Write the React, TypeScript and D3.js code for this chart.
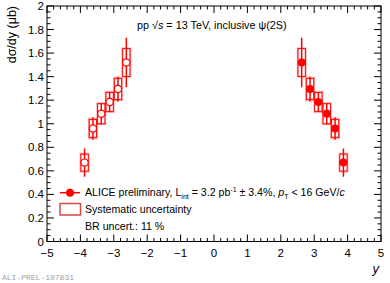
import React from "react";
import * as d3 from "d3";

// bin centres in rapidity (negative side = reflected, open markers)
const rapidity = [-3.875, -3.625, -3.375, -3.125, -2.875, -2.625, 2.625, 2.875, 3.125, 3.375, 3.625, 3.875];
const xsec = [0.67, 0.96, 1.085, 1.185, 1.295, 1.52, 1.52, 1.295, 1.185, 1.085, 0.96, 0.67];
const statErr = [0.12, 0.095, 0.09, 0.085, 0.105, 0.21, 0.21, 0.105, 0.085, 0.09, 0.095, 0.12];
const sysUncorr = [0.072, 0.075, 0.085, 0.08, 0.088, 0.118, 0.118, 0.088, 0.08, 0.085, 0.075, 0.072];
const sysTotal = [0.078, 0.085, 0.09, 0.088, 0.098, 0.122, 0.122, 0.098, 0.088, 0.09, 0.085, 0.078];
const xTickValues = [-5, -4, -3, -2, -1, 0, 1, 2, 3, 4, 5];
const yTickValues = [0, 0.2, 0.4, 0.6, 0.8, 1, 1.2, 1.4, 1.6, 1.8, 2];

const W = 390;
const H = 283;
const margin = { top: 6, right: 9, bottom: 41.5, left: 47 };
const FONT = "'Liberation Sans', Arial, Helvetica, sans-serif";
const RED = "#ff0000";

const App = () => {
  const x = d3.scaleLinear().domain([-5, 5]).range([margin.left, W - margin.right]);
  const y = d3.scaleLinear().domain([0, 2]).range([H - margin.bottom, margin.top]);
  const [x0, x1] = x.range();
  const [y0, y1] = y.range();

  const xMinor = x.ticks(50);
  const yMinor = y.ticks(50);
  const binW = 0.25;
  const boxW = 0.22;

  return (
    <svg width={W} height={H} style={{ position: "absolute", left: 0, top: 0 }} fontFamily={FONT}>
      <rect width={W} height={H} fill="#fff" />

      {/* frame */}
      <rect x={x0} y={y1} width={x1 - x0} height={y0 - y1} fill="none" stroke="#000" strokeWidth={1} />

      {/* x ticks, bottom and top */}
      {xMinor.map((t, i) => {
        const major = xTickValues.includes(Math.round(t * 10) / 10);
        const len = major ? 7 : 3.5;
        return (
          <g key={"xt" + i} stroke="#000" strokeWidth={1}>
            <line x1={x(t)} x2={x(t)} y1={y0} y2={y0 - len} />
            <line x1={x(t)} x2={x(t)} y1={y1} y2={y1 + len} />
          </g>
        );
      })}
      {/* y ticks, left and right */}
      {yMinor.map((t, i) => {
        const major = Math.abs(t * 5 - Math.round(t * 5)) < 1e-6;
        const len = major ? 7 : 3.5;
        return (
          <g key={"yt" + i} stroke="#000" strokeWidth={1}>
            <line x1={x0} x2={x0 + len} y1={y(t)} y2={y(t)} />
            <line x1={x1} x2={x1 - len} y1={y(t)} y2={y(t)} />
          </g>
        );
      })}

      {xTickValues.map((t) => (
        <text key={"xl" + t} x={x(t)} y={y0 + 15} fontSize={11.5} textAnchor="middle">
          {t < 0 ? "\u2212" + Math.abs(t) : String(t)}
        </text>
      ))}
      {yTickValues.map((t) => (
        <text key={"yl" + t} x={x0 - 3} y={y(t) + 4} fontSize={11.5} textAnchor="end">
          {String(+t.toFixed(1))}
        </text>
      ))}

      {/* axis titles */}
      <text transform={`translate(16,${y1}) rotate(-90)`} fontSize={12.5} textAnchor="end">
        d&#963;/dy (&#956;b)
      </text>
      <text x={x1 - 2} y={273} fontSize={13} fontStyle="italic" textAnchor="end">y</text>

      {/* systematic boxes */}
      {rapidity.map((r, i) => (
        <rect
          key={"st" + i}
          x={x(r - binW / 2)}
          y={y(xsec[i] + sysTotal[i])}
          width={x(r + binW / 2) - x(r - binW / 2)}
          height={y(xsec[i] - sysTotal[i]) - y(xsec[i] + sysTotal[i])}
          fill="none"
          stroke="rgba(255,0,0,0.35)"
          strokeWidth={1.5}
        />
      ))}
      {rapidity.map((r, i) => (
        <rect
          key={"su" + i}
          x={x(r - boxW / 2)}
          y={y(xsec[i] + sysUncorr[i])}
          width={x(r + boxW / 2) - x(r - boxW / 2)}
          height={y(xsec[i] - sysUncorr[i]) - y(xsec[i] + sysUncorr[i])}
          fill="none"
          stroke={RED}
          strokeWidth={1}
        />
      ))}

      {/* statistical errors */}
      {rapidity.map((r, i) => (
        <line
          key={"er" + i}
          x1={x(r)}
          x2={x(r)}
          y1={y(xsec[i] + statErr[i])}
          y2={y(xsec[i] - statErr[i])}
          stroke={RED}
          strokeWidth={1.5}
        />
      ))}

      {/* markers */}
      {rapidity.map((r, i) => (
        <circle
          key={"mk" + i}
          cx={x(r)}
          cy={y(xsec[i])}
          r={r < 0 ? 3.6 : 4}
          fill={r < 0 ? "#fff" : RED}
          stroke={RED}
          strokeWidth={r < 0 ? 1.2 : 0}
        />
      ))}

      {/* title */}
      <text x={137} y={28.5} fontSize={10.8}>
        pp {"\u221A"}<tspan fontStyle="italic">s</tspan> = 13 TeV, inclusive {"\u03C8"}(2S)
      </text>

      {/* legend */}
      <line x1={60} x2={80} y1={192.7} y2={192.7} stroke={RED} strokeWidth={1.5} />
      <circle cx={70} cy={192.7} r={4} fill={RED} />
      <text x={85} y={196.3} fontSize={10.6}>
        ALICE preliminary, L
        <tspan fontSize={7} dy={2.5}>int</tspan>
        <tspan dy={-2.5}> = 3.2 pb</tspan>
        <tspan fontSize={7} dy={-4}>-1</tspan>
        <tspan dy={4}> {"\u00B1"} 3.4%, </tspan>
        <tspan fontStyle="italic">p</tspan>
        <tspan fontSize={7} dy={2.5}>T</tspan>
        <tspan dy={-2.5}> &lt; 16 GeV/</tspan>
        <tspan fontStyle="italic">c</tspan>
      </text>

      <rect x={60} y={203.5} width={20.5} height={11.5} fill="none" stroke="#d84848" strokeWidth={1.5} />
      <text x={85} y={213.3} fontSize={10.6}>Systematic uncertainty</text>
      <text x={85} y={230} fontSize={10.6}>BR uncert.: 11 %</text>

      <text x={2} y={280} fontSize={8} fill="#a0a0a0" fontFamily="'Liberation Mono', 'DejaVu Sans Mono', monospace">
        ALI-PREL-107831
      </text>
    </svg>
  );
};

export default App;
